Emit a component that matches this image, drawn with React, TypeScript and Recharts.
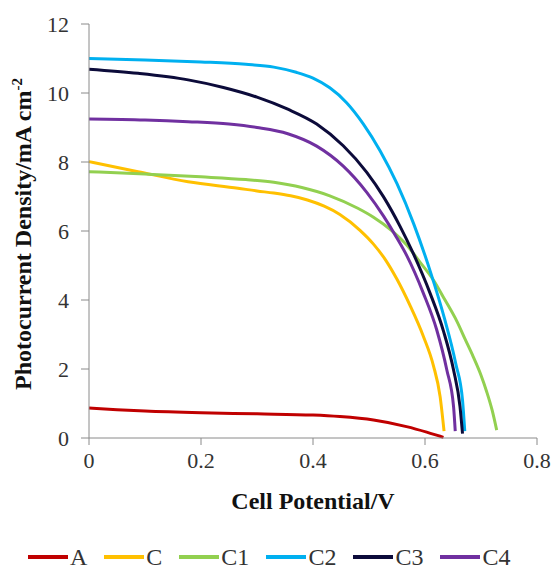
import React from 'react';
import { LineChart, Line, XAxis, YAxis, Label } from 'recharts';

const seriesNames = ['A', 'C', 'C1', 'C2', 'C3', 'C4'];
const seriesColors = ['#C00000', '#FFC000', '#92D050', '#00B0F0', '#0C0B3A', '#7030A0'];

const xTicks = [0, 0.2, 0.4, 0.6, 0.8];
const yTicks = [0, 2, 4, 6, 8, 10, 12];

const potentialA = [0, 0.05, 0.1, 0.2, 0.3, 0.4, 0.448, 0.508, 0.567, 0.603, 0.627, 0.633];
const currentA = [0.87, 0.82, 0.78, 0.73, 0.7, 0.665, 0.62, 0.52, 0.33, 0.17, 0.05, 0.02];

const potentialC = [0, 0.0875, 0.177, 0.266, 0.3, 0.33, 0.36, 0.39, 0.42, 0.448, 0.484, 0.508, 0.53, 0.55, 0.573, 0.597, 0.615, 0.627, 0.634];
const currentC = [8.01, 7.72, 7.43, 7.24, 7.16, 7.1, 7.02, 6.9, 6.72, 6.48, 6.02, 5.62, 5.15, 4.6, 3.85, 2.95, 2.1, 1.2, 0.2];

const potentialC1 = [0, 0.1, 0.2, 0.28, 0.33, 0.38, 0.43, 0.48, 0.508, 0.54, 0.567, 0.59, 0.615, 0.635, 0.657, 0.672, 0.686, 0.7, 0.71, 0.72, 0.728];
const currentC1 = [7.72, 7.65, 7.57, 7.49, 7.41, 7.26, 7.02, 6.66, 6.4, 6.02, 5.6, 5.12, 4.58, 4.02, 3.38, 2.85, 2.36, 1.82, 1.35, 0.8, 0.23];

const potentialC2 = [0, 0.1, 0.2, 0.28, 0.33, 0.37, 0.4, 0.43, 0.46, 0.49, 0.52, 0.55, 0.58, 0.61, 0.635, 0.655, 0.667, 0.671];
const currentC2 = [11.0, 10.96, 10.9, 10.83, 10.75, 10.6, 10.43, 10.15, 9.72, 9.1, 8.32, 7.37, 6.2, 4.8, 3.45, 2.15, 1.1, 0.2];

const potentialC3 = [0, 0.0875, 0.177, 0.24, 0.3, 0.355, 0.4066, 0.454, 0.496, 0.526, 0.555, 0.579, 0.609, 0.633, 0.651, 0.6625, 0.667];
const currentC3 = [10.69, 10.57, 10.38, 10.16, 9.88, 9.53, 9.1, 8.47, 7.7, 6.99, 6.15, 5.35, 4.2, 3.1, 1.97, 0.91, 0.13];

const potentialC4 = [0, 0.1, 0.177, 0.25, 0.3, 0.355, 0.4066, 0.454, 0.496, 0.526, 0.549, 0.567, 0.597, 0.621, 0.639, 0.651, 0.654];
const currentC4 = [9.25, 9.22, 9.17, 9.1, 9.0, 8.82, 8.46, 7.88, 7.12, 6.43, 5.82, 5.3, 4.2, 3.13, 1.97, 0.91, 0.2];

const potentials = [potentialA, potentialC, potentialC1, potentialC2, potentialC3, potentialC4];
const currents = [currentA, currentC, currentC1, currentC2, currentC3, currentC4];

const seriesData = seriesNames.map((name, i) =>
  potentials[i].map((v, j) => ({ v, j: currents[i][j] }))
);

const serif = 'Liberation Serif, Tinos, DejaVu Serif, serif';
const tickStyle = { fill: '#333333', fontSize: 22, fontFamily: serif };

const XTitle = (props: any) => {
  const vb = props.viewBox || {};
  const cx = vb.x + vb.width / 2;
  return (
    <text x={cx} y={vb.y + 71} textAnchor="middle" fontFamily={serif} fontWeight="bold" fontSize={24} fill="#111">
      Cell Potential/V
    </text>
  );
};

const YTitle = (props: any) => {
  const vb = props.viewBox || {};
  const cx = vb.x + 31;
  const cy = vb.y + vb.height / 2 + 3;
  return (
    <text x={cx} y={cy} transform={`rotate(-90, ${cx}, ${cy})`} textAnchor="middle" fontFamily={serif} fontWeight="bold" fontSize={24} fill="#111">
      Photocurrent Density/mA cm<tspan dy={-9} fontSize={15}>-2</tspan>
    </text>
  );
};

export default function App() {
  return (
    <div style={{ position: 'absolute', left: 0, top: 0, width: 555, height: 569, background: '#fff', fontFamily: serif }}>
      <LineChart width={555} height={569} margin={{ top: 24, right: 18, bottom: 0, left: 0 }}>
        <XAxis
          type="number"
          dataKey="v"
          domain={[0, 0.8]}
          ticks={xTicks}
          height={131}
          tickSize={7}
          tickMargin={7}
          stroke="#8a8a8a"
          tick={tickStyle}
          allowDuplicatedCategory={false}
        >
          <Label content={<XTitle />} />
        </XAxis>
        <YAxis
          type="number"
          domain={[0, 12]}
          ticks={yTicks}
          width={89}
          tickSize={8}
          tickMargin={12}
          stroke="#8a8a8a"
          tick={tickStyle}
        >
          <Label content={<YTitle />} />
        </YAxis>
        {seriesNames.map((name, i) => (
          <Line
            key={name}
            name={name}
            data={seriesData[i]}
            dataKey="j"
            type="monotone"
            stroke={seriesColors[i]}
            strokeWidth={3}
            dot={false}
            isAnimationActive={false}
          />
        ))}
      </LineChart>
      <div
        style={{
          position: 'absolute',
          left: 28,
          top: 546,
          display: 'flex',
          alignItems: 'center',
          fontFamily: serif,
          fontSize: 24,
          color: '#333',
          lineHeight: '22px',
          height: 22,
        }}
      >
        {seriesNames.map((name, i) => (
          <div key={name} style={{ display: 'flex', alignItems: 'center', marginRight: 17 }}>
            <span style={{ display: 'inline-block', width: 40, height: 4, background: seriesColors[i], marginRight: 2 }} />
            <span>{name}</span>
          </div>
        ))}
      </div>
    </div>
  );
}
